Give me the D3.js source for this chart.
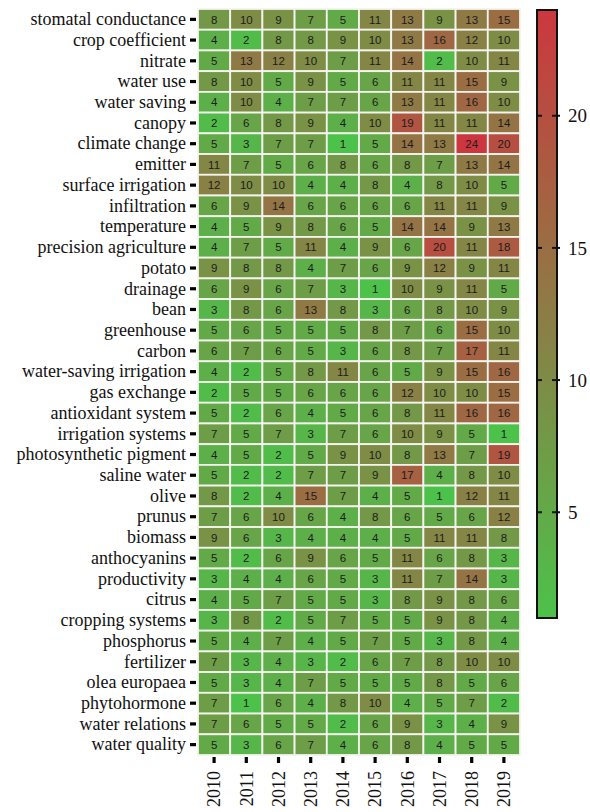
<!DOCTYPE html>
<html>
<head>
<meta charset="utf-8">
<script src="https://cdn.jsdelivr.net/npm/d3@7"></script>
<style>
  html, body { margin: 0; padding: 0; background: #fff; }
  svg { display: block; }
</style>
</head>
<body>
<svg id="chart" width="590" height="812"></svg>
<script>
// Keywords (rows) and publication years (columns)
const keywords = [
  "stomatal conductance", "crop coefficient", "nitrate", "water use", "water saving",
  "canopy", "climate change", "emitter", "surface irrigation", "infiltration",
  "temperature", "precision agriculture", "potato", "drainage", "bean",
  "greenhouse", "carbon", "water-saving irrigation", "gas exchange", "antioxidant system",
  "irrigation systems", "photosynthetic pigment", "saline water", "olive", "prunus",
  "biomass", "anthocyanins", "productivity", "citrus", "cropping systems",
  "phosphorus", "fertilizer", "olea europaea", "phytohormone", "water relations",
  "water quality"
];
const years = ["2010", "2011", "2012", "2013", "2014", "2015", "2016", "2017", "2018", "2019"];

// Keyword occurrence counts per year, one row per keyword
const counts = [
  [8, 10, 9, 7, 5, 11, 13, 9, 13, 15],
  [4, 2, 8, 8, 9, 10, 13, 16, 12, 10],
  [5, 13, 12, 10, 7, 11, 14, 2, 10, 11],
  [8, 10, 5, 9, 5, 6, 11, 11, 15, 9],
  [4, 10, 4, 7, 7, 6, 13, 11, 16, 10],
  [2, 6, 8, 9, 4, 10, 19, 11, 11, 14],
  [5, 3, 7, 7, 1, 5, 14, 13, 24, 20],
  [11, 7, 5, 6, 8, 6, 8, 7, 13, 14],
  [12, 10, 10, 4, 4, 8, 4, 8, 10, 5],
  [6, 9, 14, 6, 6, 6, 6, 11, 11, 9],
  [4, 5, 9, 8, 6, 5, 14, 14, 9, 13],
  [4, 7, 5, 11, 4, 9, 6, 20, 11, 18],
  [9, 8, 8, 4, 7, 6, 9, 12, 9, 11],
  [6, 9, 6, 7, 3, 1, 10, 9, 11, 5],
  [3, 8, 6, 13, 8, 3, 6, 8, 10, 9],
  [5, 6, 5, 5, 5, 8, 7, 6, 15, 10],
  [6, 7, 6, 5, 3, 6, 8, 7, 17, 11],
  [4, 2, 5, 8, 11, 6, 5, 9, 15, 16],
  [2, 5, 5, 6, 6, 6, 12, 10, 10, 15],
  [5, 2, 6, 4, 5, 6, 8, 11, 16, 16],
  [7, 5, 7, 3, 7, 6, 10, 9, 5, 1],
  [4, 5, 2, 5, 9, 10, 8, 13, 7, 19],
  [5, 2, 2, 7, 7, 9, 17, 4, 8, 10],
  [8, 2, 4, 15, 7, 4, 5, 1, 12, 11],
  [7, 6, 10, 6, 4, 8, 6, 5, 6, 12],
  [9, 6, 3, 4, 4, 4, 5, 11, 11, 8],
  [5, 2, 6, 9, 6, 5, 11, 6, 8, 3],
  [3, 4, 4, 6, 5, 3, 11, 7, 14, 3],
  [4, 5, 7, 5, 5, 3, 8, 9, 8, 6],
  [3, 8, 2, 5, 7, 5, 5, 9, 8, 4],
  [5, 4, 7, 4, 5, 7, 5, 3, 8, 4],
  [7, 3, 4, 3, 2, 6, 7, 8, 10, 10],
  [5, 3, 4, 7, 5, 5, 5, 8, 5, 6],
  [7, 1, 6, 4, 8, 10, 4, 5, 7, 2],
  [7, 6, 5, 5, 2, 6, 9, 3, 4, 9],
  [5, 3, 6, 7, 4, 6, 8, 4, 5, 5]
];

// Colour bar range and ticks
const colorDomain = [1, 24];
const colorTicks = [5, 10, 15, 20];

const svg = d3.select("#chart");
const grid = { left: 198, right: 520, top: 9, bottom: 755 };
const bar = { left: 537, right: 557, top: 10, bottom: 618 };

const x = d3.scaleBand().domain(years).range([grid.left, grid.right]).padding(0);
const y = d3.scaleBand().domain(keywords).range([grid.top, grid.bottom]).padding(0);
const color = d3.scaleLinear().domain(colorDomain)
  .range(["#4cc24a", "#cc373f"]).interpolate(d3.interpolateRgb);

// Heatmap cells
const cells = [];
keywords.forEach((k, i) => years.forEach((yr, j) => cells.push({ k, yr, v: counts[i][j] })));

const g = svg.append("g");
g.selectAll("rect.cell").data(cells).join("rect")
  .attr("class", "cell")
  .attr("x", d => x(d.yr))
  .attr("y", d => y(d.k))
  .attr("width", x.bandwidth())
  .attr("height", y.bandwidth())
  .attr("fill", d => color(d.v))
  .attr("stroke", "#f4f4ee")
  .attr("stroke-width", 1.8);

g.selectAll("text.val").data(cells).join("text")
  .attr("class", "val")
  .attr("x", d => x(d.yr) + x.bandwidth() / 2)
  .attr("y", d => y(d.k) + y.bandwidth() / 2)
  .attr("dy", "0.36em")
  .attr("text-anchor", "middle")
  .attr("font-family", "Liberation Sans, Arial, sans-serif")
  .attr("font-size", 11.5)
  .attr("fill", "#1c1c1c")
  .text(d => d.v);

// Left axis with keyword labels
const yAxis = svg.append("g")
  .attr("transform", `translate(${grid.left - 2},0)`)
  .call(d3.axisLeft(y).tickSize(6).tickPadding(4));
yAxis.select(".domain").remove();
yAxis.selectAll(".tick line").attr("stroke", "#000").attr("stroke-width", 3.2);
yAxis.selectAll(".tick text")
  .attr("font-family", "Liberation Serif, Times New Roman, serif")
  .attr("font-size", 18)
  .attr("fill", "#111");

// Bottom axis with years
const xAxis = svg.append("g")
  .attr("transform", `translate(0,${grid.bottom + 2})`)
  .call(d3.axisBottom(x).tickSize(6).tickPadding(4));
xAxis.select(".domain").remove();
xAxis.selectAll(".tick line").attr("stroke", "#000").attr("stroke-width", 3.2);
xAxis.selectAll(".tick text")
  .attr("font-family", "Liberation Serif, Times New Roman, serif")
  .attr("font-size", 18)
  .attr("fill", "#111")
  .attr("text-anchor", "end")
  .attr("transform", "rotate(-90)")
  .attr("x", -14)
  .attr("y", 0)
  .attr("dy", "0.35em");

// Colour bar
const cb = d3.scaleLinear().domain(colorDomain).range([bar.bottom, bar.top]);
const defs = svg.append("defs");
const grad = defs.append("linearGradient")
  .attr("id", "cbGrad").attr("x1", 0).attr("y1", 1).attr("x2", 0).attr("y2", 0);
d3.range(0, 1.0001, 0.1).forEach(t => {
  const v = colorDomain[0] + t * (colorDomain[1] - colorDomain[0]);
  grad.append("stop").attr("offset", t).attr("stop-color", color(v));
});
svg.append("rect")
  .attr("x", bar.left).attr("y", bar.top)
  .attr("width", bar.right - bar.left).attr("height", bar.bottom - bar.top)
  .attr("fill", "url(#cbGrad)")
  .attr("stroke", "#111").attr("stroke-width", 2);

const cbTicks = svg.append("g");
colorTicks.forEach(t => {
  const ty = cb(t);
  cbTicks.append("line")
    .attr("x1", bar.left - 1).attr("x2", bar.left + 5)
    .attr("y1", ty).attr("y2", ty)
    .attr("stroke", "#111").attr("stroke-width", 2);
  cbTicks.append("line")
    .attr("x1", bar.right - 5).attr("x2", bar.right + 3)
    .attr("y1", ty).attr("y2", ty)
    .attr("stroke", "#111").attr("stroke-width", 2);
  cbTicks.append("text")
    .attr("x", bar.right + 11).attr("y", ty).attr("dy", "0.35em")
    .attr("font-family", "Liberation Serif, Times New Roman, serif")
    .attr("font-size", 19)
    .attr("fill", "#111")
    .text(t);
});
</script>
</body>
</html>
